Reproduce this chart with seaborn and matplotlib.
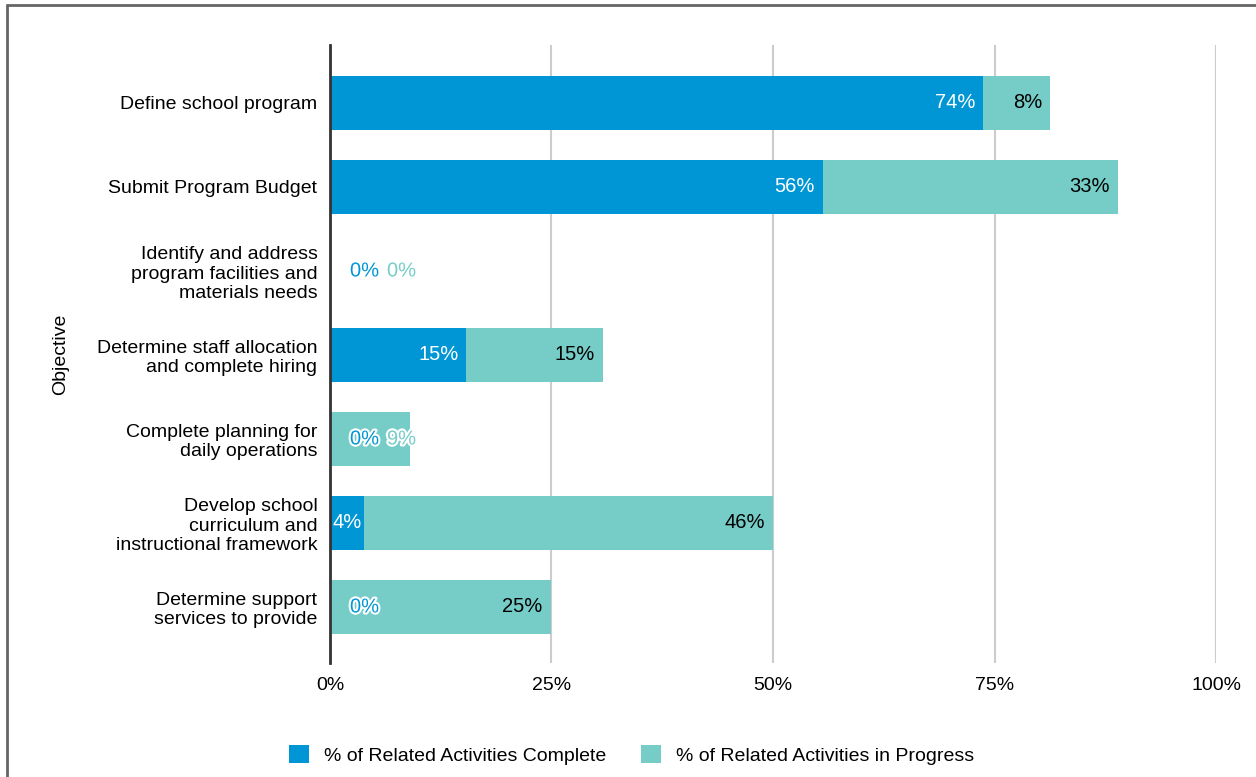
import matplotlib
matplotlib.use("Agg")
import matplotlib.pyplot as plt
import matplotlib.patheffects as pe
from matplotlib.transforms import offset_copy
from matplotlib.patches import Patch
from matplotlib.lines import Line2D
import seaborn as sns
import pandas as pd

objectives = [
    "Define school program",
    "Submit Program Budget",
    "Identify and address\nprogram facilities and\nmaterials needs",
    "Determine staff allocation\nand complete hiring",
    "Complete planning for\ndaily operations",
    "Develop school\ncurriculum and\ninstructional framework",
    "Determine support\nservices to provide",
]
complete = [0.737, 0.556, 0.0, 0.154, 0.0, 0.038, 0.0]
in_progress = [0.076, 0.333, 0.0, 0.154, 0.090, 0.462, 0.249]

series_names = ["% of Related Activities Complete", "% of Related Activities in Progress"]
blue = "#0096d6"
teal = "#76cdc8"

df = pd.DataFrame({"Objective": objectives, "Complete": complete, "InProgress": in_progress})
df["Total"] = df["Complete"] + df["InProgress"]

sns.set_style("white")
plt.rcParams["font.family"] = ["Liberation Sans", "DejaVu Sans"]
plt.rcParams["text.color"] = "black"
plt.rcParams["xtick.color"] = "black"
plt.rcParams["ytick.color"] = "black"
plt.rcParams["axes.labelcolor"] = "black"

FS = 14

fig = plt.figure(figsize=(12.56, 7.77), dpi=100)
ax = fig.add_axes([0.2627, 0.1467, 0.7055, 0.7954])

# stacked: draw totals first, then complete on top
sns.barplot(data=df, x="Total", y="Objective", color=teal, width=0.65,
            saturation=1, orient="h", ax=ax, zorder=2, linewidth=0)
sns.barplot(data=df, x="Complete", y="Objective", color=blue, width=0.65,
            saturation=1, orient="h", ax=ax, zorder=3, linewidth=0)

ax.set_xlim(0, 1.0)
ax.set_ylim(6.667, -0.69)
ax.set_xticks([0, 0.25, 0.5, 0.75, 1.0])
ax.set_xticklabels(["0%", "25%", "50%", "75%", "100%"], fontsize=FS)
ax.tick_params(axis="x", length=0, pad=10)
ax.tick_params(axis="y", length=0, pad=9, labelsize=FS)
for lab in ax.get_yticklabels():
    lab.set_linespacing(1.17)
ax.grid(axis="x", color="#cccccc", linewidth=1.5, zorder=0)
ax.set_axisbelow(True)
for s in ["top", "right", "bottom"]:
    ax.spines[s].set_visible(False)
ax.spines["left"].set_color("#333333")
ax.spines["left"].set_linewidth(2)
ax.spines["left"].set_zorder(5)
ax.set_xlabel("")
ax.set_ylabel("Objective", fontsize=FS, labelpad=20)

outline = [pe.withStroke(linewidth=3, foreground="white")]
to_px = lambda v: v * ax.get_position().width * fig.get_figwidth() * fig.dpi
LFS = 14.5

for i, (c, p) in enumerate(zip(complete, in_progress)):
    # complete label
    if to_px(c) > 45:
        tr = offset_copy(ax.transData, fig, x=-8, units="dots")
        ax.text(c, i, f"{round(c * 100)}%", ha="right", va="center", color="white",
                fontsize=LFS, transform=tr, zorder=6)
    elif c > 0:
        tr = offset_copy(ax.transData, fig, x=-2, units="dots")
        ax.text(c, i, f"{round(c * 100)}%", ha="right", va="center", color="white",
                fontsize=LFS, transform=tr, zorder=6)
    else:
        tr = offset_copy(ax.transData, fig, x=20, units="dots")
        ax.text(0, i, "0%", ha="left", va="center", color=blue, fontsize=LFS,
                transform=tr, path_effects=outline, zorder=6)
    # in-progress label
    if to_px(p) > 100 or (to_px(p) > 45 and c > 0):
        tr = offset_copy(ax.transData, fig, x=-8, units="dots")
        ax.text(c + p, i, f"{round(p * 100)}%", ha="right", va="center", color="black",
                fontsize=LFS, transform=tr, zorder=6)
    else:
        tr = offset_copy(ax.transData, fig, x=57, units="dots")
        ax.text(0, i, f"{round(p * 100)}%", ha="left", va="center", color=teal, fontsize=LFS,
                transform=tr, path_effects=outline, zorder=6)

handles = [Patch(facecolor=blue, edgecolor="none"), Patch(facecolor=teal, edgecolor="none")]
fig.legend(handles, series_names, loc="center", bbox_to_anchor=(0.503, 1 - 755 / 777),
           ncol=2, frameon=False, fontsize=FS, handlelength=1.0, handleheight=1.0,
           columnspacing=1.8, handletextpad=0.8)

# outer frame (left and top edges)
fig.add_artist(Line2D([6.5 / 1256, 6.5 / 1256], [0, 1 - 5 / 777], transform=fig.transFigure,
                      color="#666666", linewidth=2))
fig.add_artist(Line2D([6.5 / 1256, 1], [1 - 5 / 777, 1 - 5 / 777], transform=fig.transFigure,
                      color="#666666", linewidth=2))

fig.savefig("out.png", dpi=100)
